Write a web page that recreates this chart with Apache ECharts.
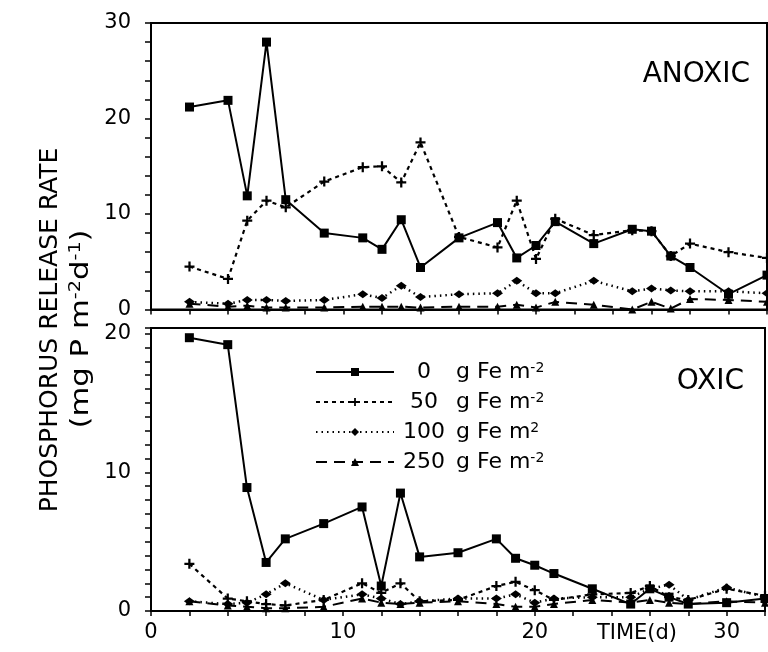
<!DOCTYPE html>
<html>
<head>
<meta charset="utf-8">
<script src="https://cdn.jsdelivr.net/npm/echarts@6/dist/echarts.min.js"></script>
<style>
  html, body { margin: 0; background: #fff; }
  #chart { width: 768px; height: 652px; }
</style>
</head>
<body>
<div id="chart"></div>
<script>
// sampling days
const days = [2, 4, 5, 6, 7, 9, 11, 12, 13, 14, 16, 18, 19, 20, 21, 23, 25, 26, 27, 28, 30, 32];

// anoxic release rates (mg P m-2 d-1)
const anoxic0   = [21.2, 21.9, 11.9, 28.0, 11.5, 8.0, 7.5, 6.3, 9.4, 4.4, 7.5, 9.1, 5.4, 6.7, 9.2, 6.9, 8.4, 8.2, 5.6, 4.4, 1.6, 3.6];
const anoxic50  = [4.5, 3.2, 9.3, 11.4, 10.7, 13.4, 14.9, 15.0, 13.3, 17.5, 7.6, 6.5, 11.4, 5.3, 9.5, 7.8, 8.3, 8.2, 5.6, 6.9, 6.0, 5.4];
const anoxic100 = [0.8, 0.6, 1.0, 1.0, 0.9, 1.0, 1.6, 1.2, 2.5, 1.3, 1.6, 1.7, 3.0, 1.7, 1.7, 3.0, 1.9, 2.2, 2.0, 1.9, 1.9, 1.7];
const anoxic250 = [0.6, 0.3, 0.4, 0.2, 0.2, 0.2, 0.3, 0.3, 0.3, 0.2, 0.3, 0.3, 0.5, 0.2, 0.8, 0.5, 0.0, 0.8, 0.1, 1.1, 1.0, 0.8];

// oxic release rates
const oxic0   = [19.7, 19.2, 8.9, 3.5, 5.2, 6.3, 7.5, 1.8, 8.5, 3.9, 4.2, 5.2, 3.8, 3.3, 2.7, 1.6, 0.5, 1.6, 1.0, 0.5, 0.6, 0.9];
const oxic50  = [3.4, 0.9, 0.7, 0.5, 0.4, 0.8, 2.0, 1.3, 2.0, 0.7, 0.8, 1.8, 2.1, 1.5, 0.8, 1.2, 1.3, 1.8, 1.0, 0.8, 1.6, 1.1];
const oxic100 = [0.7, 0.5, 0.6, 1.2, 2.0, 0.8, 1.2, 0.9, 0.5, 0.7, 0.9, 0.9, 1.2, 0.6, 0.9, 1.0, 1.0, 1.6, 1.9, 0.8, 1.7, 1.0];
const oxic250 = [0.7, 0.4, 0.3, 0.2, 0.2, 0.3, 0.9, 0.6, 0.5, 0.6, 0.7, 0.5, 0.3, 0.3, 0.5, 0.8, 0.6, 0.8, 0.6, 0.5, 0.7, 0.6];

// legend doses and their superscripts (as printed)
const doses = ['0', '50', '100', '250'];
const doseSup = ['-2', '-2', '2', '-2'];

const FONT = 'DejaVu Sans, Liberation Sans, Arial, sans-serif';
const PLUS = 'path://M3.1,0h1.8v3.1h3.1v1.8h-3.1v3.1h-1.8v-3.1h-3.1v-1.8h3.1z';

const styles = {
    '0':   { symbol: 'rect', symbolSize: 9, line: { width: 2, type: 'solid' } },
    '50':  { symbol: PLUS, symbolSize: 10, line: { width: 2.2, type: [4, 4] } },
    '100': { symbol: 'diamond', symbolSize: [11, 8], line: { width: 2.5, type: [1.5, 4] } },
    '250': { symbol: 'triangle', symbolSize: 8, line: { width: 2, type: [11, 7] } }
};

function pairs(vals) {
    return days.map((d, i) => [d, vals[i]]);
}

function makeSeries(dose, vals, gi) {
    const s = styles[dose];
    return {
        name: dose,
        type: 'line',
        xAxisIndex: gi,
        yAxisIndex: gi,
        data: pairs(vals),
        symbol: s.symbol,
        symbolSize: s.symbolSize,
        showAllSymbol: true,
        lineStyle: { color: '#000', width: s.line.width, type: s.line.type },
        itemStyle: { color: '#000' },
        animation: false
    };
}

function tenLabel(v) {
    return (Math.abs(v % 10) < 1e-9) ? String(v) : '';
}

const axisLine = { show: true, lineStyle: { color: '#000', width: 2 } };
const labelStyle = { color: '#000', fontSize: 21, fontFamily: FONT };

const chart = echarts.init(document.getElementById('chart'));

chart.setOption({
    backgroundColor: '#fff',
    animation: false,
    grid: [
        { left: 151, top: 23, width: 616, height: 286.5, show: true, borderColor: '#000', borderWidth: 2 },
        { left: 151, top: 328, width: 616, height: 283, show: true, borderColor: '#000', borderWidth: 2 }
    ],
    xAxis: [
        {
            gridIndex: 0, type: 'value', min: 0, max: 32, interval: 2,
            axisLine: axisLine,
            axisTick: { show: true, length: 5, lineStyle: { color: '#000', width: 1.5 } },
            axisLabel: { show: false },
            splitLine: { show: false }
        },
        {
            gridIndex: 1, type: 'value', min: 0, max: 32, interval: 2,
            axisLine: axisLine,
            axisTick: { show: true, length: 5, lineStyle: { color: '#000', width: 1.5 } },
            axisLabel: Object.assign({ margin: 11, formatter: tenLabel }, labelStyle),
            splitLine: { show: false }
        }
    ],
    yAxis: [
        {
            gridIndex: 0, type: 'value', min: 0, max: 30, interval: 2,
            axisLine: axisLine,
            axisTick: { show: true, length: 6, lineStyle: { color: '#000', width: 1.5 } },
            axisLabel: Object.assign({ margin: 20, formatter: tenLabel }, labelStyle),
            splitLine: { show: false }
        },
        {
            gridIndex: 1, type: 'value', min: 0, max: 20.4, interval: 1,
            axisLine: axisLine,
            axisTick: { show: true, length: 6, lineStyle: { color: '#000', width: 1.5 } },
            axisLabel: Object.assign({ margin: 20, formatter: tenLabel }, labelStyle),
            splitLine: { show: false }
        }
    ],
    legend: {
        data: doses,
        orient: 'vertical',
        left: 310,
        top: 356,
        itemWidth: 78,
        itemHeight: 10,
        itemGap: 8,
        selectedMode: false,
        formatter: name => {
            const sup = doseSup[doses.indexOf(name)];
            return '{n|' + name + '}{t| g Fe m}{s|' + sup + '}';
        },
        textStyle: {
            color: '#000',
            fontFamily: FONT,
            rich: {
                n: { width: 50, align: 'right', fontSize: 22, lineHeight: 22, fontFamily: FONT, color: '#000' },
                t: { fontSize: 22, lineHeight: 22, fontFamily: FONT, color: '#000' },
                s: { fontSize: 14, lineHeight: 14, verticalAlign: 'top', fontFamily: FONT, color: '#000' }
            }
        }
    },
    graphic: [
        {
            type: 'text', x: 50, y: 330, rotation: Math.PI / 2,
            style: {
                text: 'PHOSPHORUS RELEASE RATE',
                font: '25px ' + FONT, fill: '#000',
                textAlign: 'center', textVerticalAlign: 'middle'
            }
        },
        {
            type: 'text', x: 82, y: 329, rotation: Math.PI / 2, scaleX: 1.28,
            style: {
                text: '{a|(mg P m}{s|-2}{a|d}{s|-1}{a|)}',
                fill: '#000',
                textAlign: 'center', textVerticalAlign: 'middle',
                rich: {
                    a: { fontSize: 24, lineHeight: 26, fontFamily: FONT, fill: '#000' },
                    s: { fontSize: 15, lineHeight: 15, verticalAlign: 'top', fontFamily: FONT, fill: '#000' }
                }
            }
        },
        {
            type: 'text', x: 750, y: 75,
            style: { text: 'ANOXIC', font: '28px ' + FONT, fill: '#000', textAlign: 'right', textVerticalAlign: 'middle' }
        },
        {
            type: 'text', x: 744, y: 382,
            style: { text: 'OXIC', font: '28px ' + FONT, fill: '#000', textAlign: 'right', textVerticalAlign: 'middle' }
        },
        {
            type: 'text', x: 637, y: 634,
            style: { text: 'TIME(d)', font: '21px ' + FONT, fill: '#000', textAlign: 'center', textVerticalAlign: 'middle' }
        }
    ],
    series: [
        makeSeries('0', anoxic0, 0),
        makeSeries('50', anoxic50, 0),
        makeSeries('100', anoxic100, 0),
        makeSeries('250', anoxic250, 0),
        makeSeries('0', oxic0, 1),
        makeSeries('50', oxic50, 1),
        makeSeries('100', oxic100, 1),
        makeSeries('250', oxic250, 1)
    ]
});
</script>
</body>
</html>
